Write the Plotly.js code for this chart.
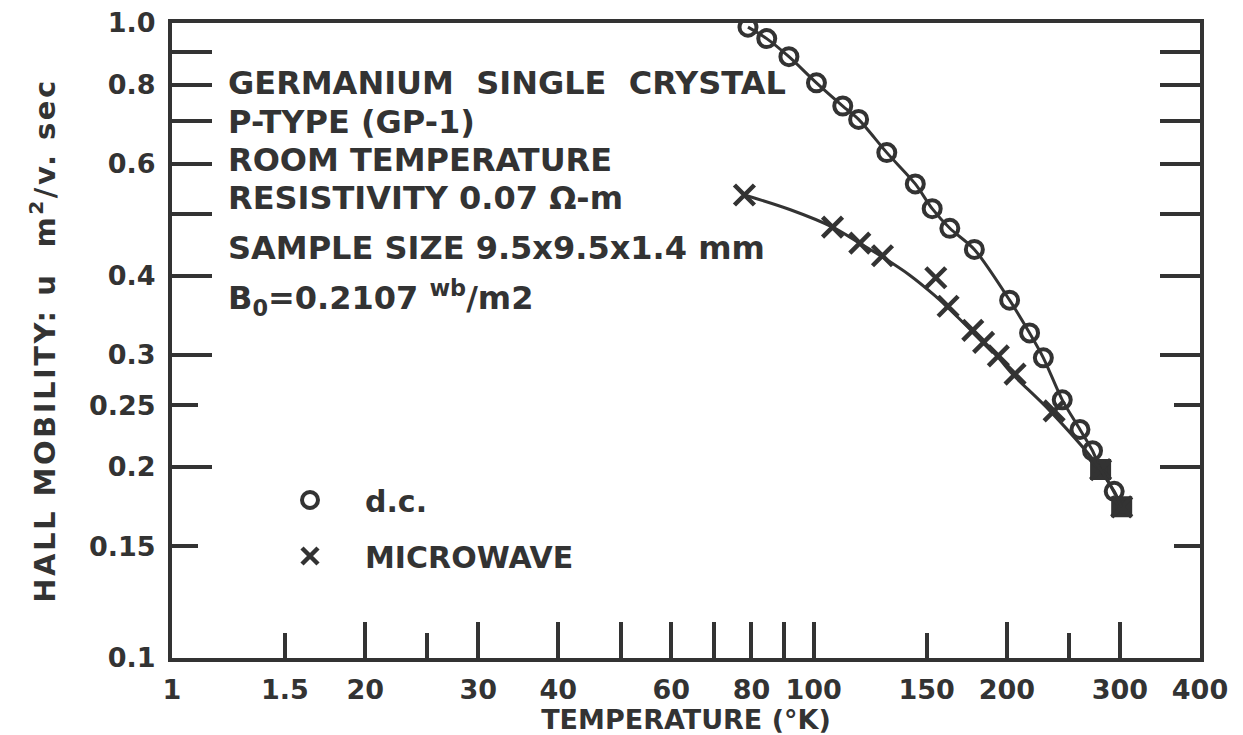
<!DOCTYPE html>
<html>
<head>
<meta charset="utf-8">
<script src="https://cdn.plot.ly/plotly-3.0.1.min.js"></script>
<style>
html,body{margin:0;padding:0;background:#fff;}
#chart{width:1243px;height:735px;}
#chart .ytitle{letter-spacing:2.5px;}
</style>
</head>
<body>
<div id="chart"></div>
<script>
// ---- data ----
const tempDC = [79, 84.5, 91.5, 101, 111, 117.5, 130, 144, 153, 163, 178, 202, 217, 228, 244, 260, 272, 280, 294, 302];
const muDC   = [0.985, 0.945, 0.885, 0.805, 0.74, 0.705, 0.625, 0.558, 0.51, 0.475, 0.44, 0.366, 0.325, 0.297, 0.255, 0.229, 0.212, 0.198, 0.183, 0.173];
const tempMW = [78, 107, 118, 128, 155, 162, 177, 184, 194, 206, 237, 280, 302];
const muMW   = [0.536, 0.477, 0.45, 0.43, 0.397, 0.358, 0.328, 0.314, 0.299, 0.28, 0.245, 0.198, 0.173];
// hand-drawn microwave curve
const curveMWT  = [78, 92, 107, 118, 128, 141, 154.5, 161, 176.5, 193, 204, 233.5, 280, 302];
const curveMWMu = [0.536, 0.508, 0.477, 0.45, 0.428, 0.401, 0.372, 0.358, 0.327, 0.299, 0.28, 0.245, 0.198, 0.173];

const xLabelVals = [10, 15, 20, 30, 40, 60, 80, 100, 150, 200, 300, 400];
const xLabelText = ["1", "1.5", "20", "30", "40", "60", "80", "100", "150", "200", "300", "400"];
const xTallTicks = [20, 30, 40, 50, 60, 70, 80, 90, 100, 200, 300];
const xShortTicks = [15, 25, 150, 250];
const yLabelVals = [0.1, 0.15, 0.2, 0.25, 0.3, 0.4, 0.6, 0.8, 1.0];
const yLabelText = ["0.1", "0.15", "0.2", "0.25", "0.3", "0.4", "0.6", "0.8", "1.0"];
const yTallTicks = [0.2, 0.3, 0.4, 0.5, 0.6, 0.7, 0.8, 0.9];
const yShortTicks = [0.15, 0.25];

const noteLines = [
  "GERMANIUM  SINGLE  CRYSTAL",
  "P-TYPE (GP-1)",
  "ROOM TEMPERATURE",
  "RESISTIVITY 0.07 Ω-m",
  "SAMPLE SIZE 9.5x9.5x1.4 mm",
  "B<sub>0</sub>=0.2107 <sup>wb</sup>/m2"
];

// ---- styling ----
const INK = '#333333';
const FONT = 'DejaVu Sans';
const xRange = [1, Math.log10(400)];
const yRange = [-1, 0];

const dcSymbols = tempDC.map(t => tempMW.includes(t) ? 'square' : 'circle-open');

const traces = [
  { x: tempDC, y: muDC, mode: 'lines', xaxis: 'x2', yaxis: 'y2', showlegend: false,
    line: { color: INK, width: 3, shape: 'spline', smoothing: 0.8 }, hoverinfo: 'skip' },
  { x: curveMWT, y: curveMWMu, mode: 'lines', xaxis: 'x2', yaxis: 'y2', showlegend: false,
    line: { color: INK, width: 3, shape: 'spline', smoothing: 0.9 }, hoverinfo: 'skip' },
  { x: tempDC, y: muDC, mode: 'markers', name: 'd.c.', legendgroup: 'a',
    marker: { symbol: dcSymbols, size: 17, color: INK, line: { color: INK, width: 4 } } },
  { x: tempMW, y: muMW, mode: 'markers', name: 'MICROWAVE', legendgroup: 'b',
    marker: { symbol: 'x-thin-open', size: 20, color: INK, line: { color: INK, width: 4.5 } } }
];

const plotL = 172, plotR = 1200, plotT = 23, plotB = 658;
const W = 1243, H = 735;
const py = p => (plotB - p) / (plotB - plotT);
const px = p => (p - plotL) / (plotR - plotL);
const plotH = plotB - plotT;

// top-edge tick marks (inward); shapes on a log axis take log10 positions
const topTick = (v, len) => ({
  type: 'line', xref: 'x', yref: 'paper', x0: Math.log10(v), x1: Math.log10(v), y0: 1, y1: 1 - len / plotH,
  line: { color: INK, width: 4 }, layer: 'above'
});
const shapes = xTallTicks.map(v => topTick(v, 29)).concat(xShortTicks.map(v => topTick(v, 20)));

const noteY = [83, 122, 160, 198, 248, 298];
const annotations = noteLines.map((t, i) => ({
  text: t, xref: 'paper', yref: 'paper', x: px(226), y: py(noteY[i]),
  xanchor: 'left', yanchor: 'middle', align: 'left', showarrow: false,
  font: { family: FONT, size: 32, color: INK, weight: 'bold' }
}));

const layout = {
  width: W, height: H,
  margin: { l: plotL, r: W - plotR, t: plotT, b: H - plotB },
  paper_bgcolor: '#fff', plot_bgcolor: '#fff',
  font: { family: FONT, color: INK, weight: 'bold' },
  xaxis: {
    type: 'log', range: xRange, tickmode: 'array', tickvals: xLabelVals, ticktext: xLabelText,
    ticks: '', showgrid: false, zeroline: false, showline: true, mirror: true,
    linecolor: INK, linewidth: 4, ticklabelstandoff: 5,
    tickfont: { family: FONT, size: 27, color: INK, weight: 'bold' },
    title: { text: 'TEMPERATURE (°K)', standoff: 9, font: { family: FONT, size: 27, color: INK, weight: 'bold' } }
  },
  yaxis: {
    type: 'log', range: yRange, tickmode: 'array', tickvals: yLabelVals, ticktext: yLabelText,
    ticks: '', showgrid: false, zeroline: false, showline: true, mirror: true,
    linecolor: INK, linewidth: 4, ticklabelstandoff: 7,
    tickfont: { family: FONT, size: 27, color: INK, weight: 'bold' },
    title: { text: 'HALL MOBILITY: u  m<sup>2</sup>/v. sec', standoff: 26, font: { family: FONT, size: 29, color: INK, weight: 'bold' } }
  },
  xaxis2: {
    type: 'log', range: xRange, overlaying: 'x', anchor: 'y', side: 'bottom',
    tickmode: 'array', tickvals: xTallTicks, showticklabels: false,
    ticks: 'inside', ticklen: 36, tickwidth: 4, tickcolor: INK,
    showline: false, showgrid: false, zeroline: false,
    minor: { tickmode: 'array', tickvals: xShortTicks, ticks: 'inside', ticklen: 25, tickwidth: 4, tickcolor: INK, showgrid: false }
  },
  yaxis2: {
    type: 'log', range: yRange, overlaying: 'y', anchor: 'x', side: 'left',
    tickmode: 'array', tickvals: yTallTicks, showticklabels: false,
    ticks: 'inside', ticklen: 40, tickwidth: 4, tickcolor: INK, mirror: 'ticks',
    showline: false, showgrid: false, zeroline: false,
    minor: { tickmode: 'array', tickvals: yShortTicks, ticks: 'inside', ticklen: 26, tickwidth: 4, tickcolor: INK, showgrid: false }
  },
  showlegend: true,
  legend: {
    x: px(255), y: py(474), xanchor: 'left', yanchor: 'top',
    bgcolor: 'rgba(0,0,0,0)', borderwidth: 0, traceorder: 'grouped', tracegroupgap: 14,
    itemwidth: 100,
    font: { family: FONT, size: 30, color: INK, weight: 'bold' }
  },
  shapes: shapes,
  annotations: annotations
};

Plotly.newPlot('chart', traces, layout, { displayModeBar: false, staticPlot: true });
</script>
</body>
</html>
